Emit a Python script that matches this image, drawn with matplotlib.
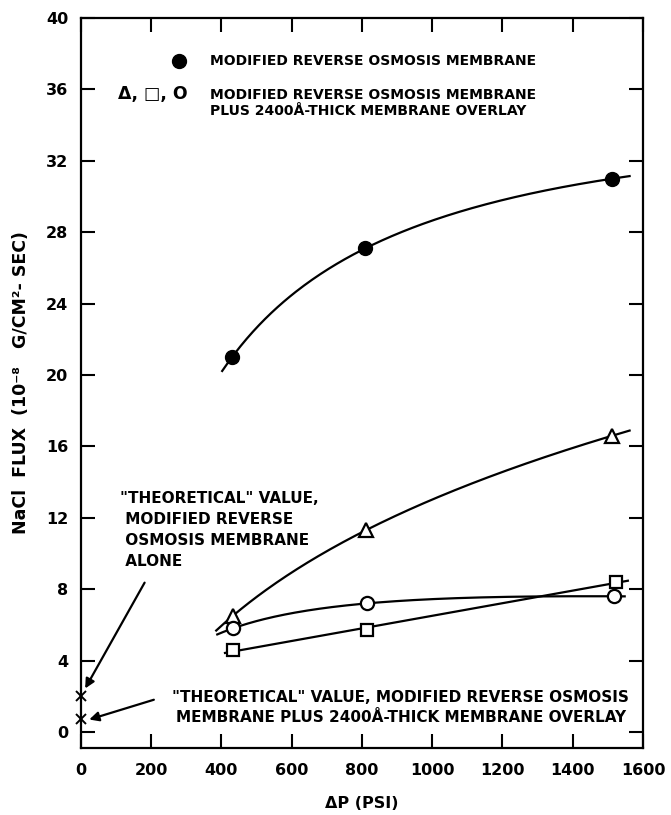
import numpy as np
import matplotlib.pyplot as plt

# Fluxo de NaCl (10^-8 g/cm2-s) em funcao da pressao aplicada (psi)
p_cheio = [430, 810, 1513]
fluxo_cheio = [21.0, 27.1, 31.0]

p_triangulo = [432, 811, 1513]
fluxo_triangulo = [6.5, 11.3, 16.6]

p_circulo = [432, 813, 1517]
fluxo_circulo = [5.8, 7.2, 7.6]

p_quadrado = [432, 813, 1522]
fluxo_quadrado = [4.6, 5.7, 8.4]

# valores "teoricos"
p_teorico = [0, 0]
fluxo_teorico = [2.0, 0.7]

x_ticks = [0, 200, 400, 600, 800, 1000, 1200, 1400, 1600]
y_ticks = [0, 4, 8, 12, 16, 20, 24, 28, 32, 36, 40]

plt.rcParams['font.family'] = ['DejaVu Sans']
plt.rcParams['font.weight'] = 'bold'
plt.rcParams['axes.labelweight'] = 'bold'
FS = 11
LW = 1.6


def curva(ax, x, y, x0, x1, grau, log=True):
    # curva ajustada aos pontos (em log da pressao), um pouco alem dos extremos
    xs = np.linspace(x0, x1, 200)
    if log:
        coef = np.polyfit(np.log(x), y, grau)
        ys = np.polyval(coef, np.log(xs))
    else:
        coef = np.polyfit(x, y, grau)
        ys = np.polyval(coef, xs)
    ax.plot(xs, ys, color='black', lw=LW, zorder=2)


fig = plt.figure(figsize=(6.71, 8.15), dpi=100)
ax = fig.add_axes([0.1207, 0.0822, 0.8375, 0.8957])

curva(ax, p_cheio, fluxo_cheio, 402, 1562, 2)
curva(ax, p_triangulo, fluxo_triangulo, 385, 1562, 2)
curva(ax, p_circulo, fluxo_circulo, 388, 1548, 2)
curva(ax, p_quadrado, fluxo_quadrado, 410, 1557, 1, log=False)

ax.plot(p_cheio, fluxo_cheio, 'o', ms=10, color='black', zorder=3)
ax.plot(p_triangulo, fluxo_triangulo, '^', ms=10, mfc='white', mec='black', mew=LW, zorder=3)
ax.plot(p_circulo, fluxo_circulo, 'o', ms=9.5, mfc='white', mec='black', mew=LW, zorder=3)
ax.plot(p_quadrado, fluxo_quadrado, 's', ms=8.5, mfc='white', mec='black', mew=LW, zorder=3)
ax.plot(p_teorico, fluxo_teorico, 'x', ms=7, color='black', mew=1.4, clip_on=False, zorder=3)

# legenda escrita a mao
ax.plot([278], [37.6], 'o', ms=10, color='black')
ax.text(367, 37.6, 'MODIFIED REVERSE OSMOSIS MEMBRANE', fontsize=10, va='center')
ax.text(205, 35.75, 'Δ, □, O', fontsize=12.5, va='center', ha='center')
ax.text(367, 35.25, 'MODIFIED REVERSE OSMOSIS MEMBRANE\nPLUS 2400Å-THICK MEMBRANE OVERLAY',
        fontsize=10, va='center', linespacing=1.2)

# anotacoes dos valores teoricos
ax.text(111, 11.3, '"THEORETICAL" VALUE,\n MODIFIED REVERSE\n OSMOSIS MEMBRANE\n ALONE',
        fontsize=FS, va='center', ha='left', linespacing=1.5)
ax.annotate('', xy=(8, 2.3), xytext=(185, 8.5),
            arrowprops=dict(arrowstyle='-|>', color='black', lw=LW, mutation_scale=14))
ax.text(910, 1.38, '"THEORETICAL" VALUE, MODIFIED REVERSE OSMOSIS\nMEMBRANE PLUS 2400Å-THICK MEMBRANE OVERLAY',
        fontsize=FS, va='center', ha='center', linespacing=1.45)
ax.annotate('', xy=(16, 0.65), xytext=(215, 1.85),
            arrowprops=dict(arrowstyle='-|>', color='black', lw=LW, mutation_scale=14))

ax.set_xlim(0, 1600)
ax.set_ylim(-0.9, 40)
ax.set_xticks(x_ticks)
ax.set_yticks(y_ticks)
ax.set_xticklabels([str(t) for t in x_ticks], fontsize=11.5)
ax.set_yticklabels([str(t) for t in y_ticks], fontsize=11.5)
ax.tick_params(direction='in', length=10, width=1.5, top=True, right=True)
ax.tick_params(axis='x', pad=11)
ax.tick_params(axis='y', pad=9)
for s in ax.spines.values():
    s.set_linewidth(1.6)

ax.set_xlabel('ΔP (PSI)', fontsize=11.5, labelpad=13)
ax.set_ylabel('NaCl  FLUX  (10⁻⁸   G/CM²- SEC)', fontsize=12.5, labelpad=12)

fig.savefig('out.png', dpi=100)
